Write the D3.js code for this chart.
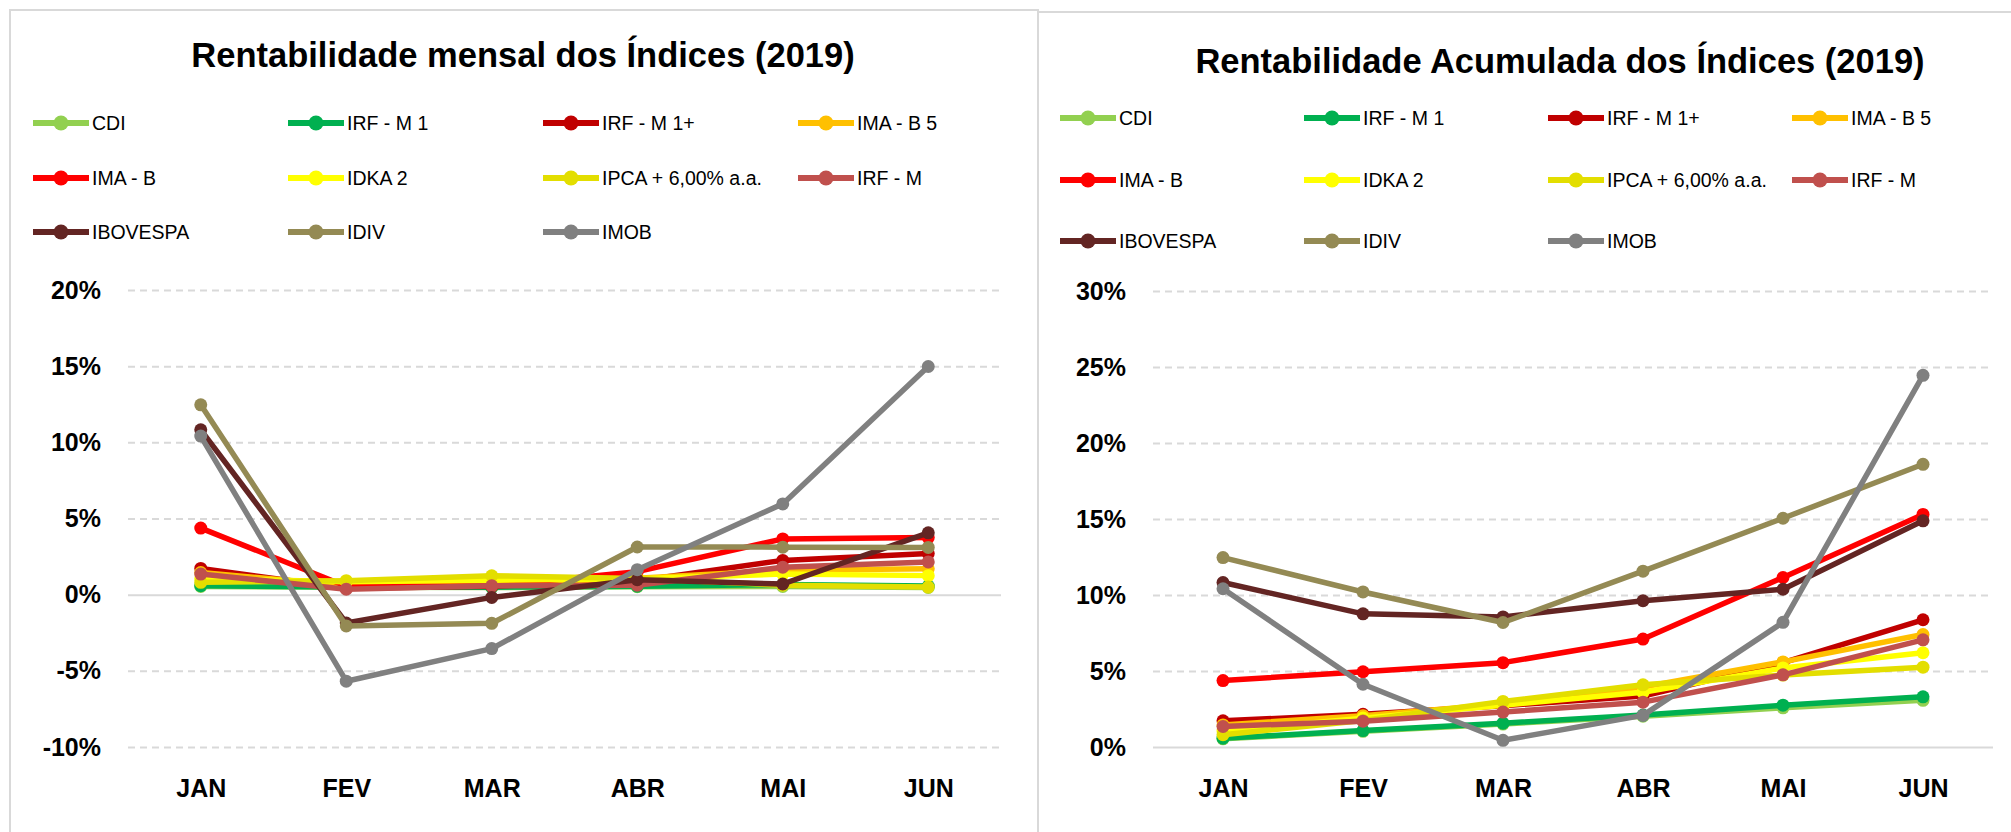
<!DOCTYPE html>
<html>
<head>
<meta charset="utf-8">
<script src="https://cdn.jsdelivr.net/npm/d3@7"></script>
<style>
  body { margin: 0; background: #fff; }
  svg { display: block; font-family: "Liberation Sans", Arial, sans-serif; }
  .grid line { stroke: #d9d9d9; stroke-width: 2; stroke-dasharray: 7,5; }
  .grid .zero line { stroke-dasharray: none; }
  .axis text { font-weight: bold; font-size: 25px; fill: #000; }
</style>
</head>
<body>
<div id="chart"></div>
<script>
// months and series names
const months = ['JAN', 'FEV', 'MAR', 'ABR', 'MAI', 'JUN'];
const seriesNames = ['CDI', 'IRF - M 1', 'IRF - M 1+', 'IMA - B 5', 'IMA - B', 'IDKA 2',
  'IPCA + 6,00% a.a.', 'IRF - M', 'IBOVESPA', 'IDIV', 'IMOB'];
const seriesColors = ['#92D050', '#00B050', '#C00000', '#FFC000', '#FF0000', '#FFFF00',
  '#E3DE00', '#C0504D', '#632523', '#948A54', '#808080'];

// monthly return (%) per index, same order as seriesNames
const mensal = [
  [0.54, 0.49, 0.47, 0.52, 0.54, 0.47],
  [0.59, 0.50, 0.49, 0.56, 0.66, 0.57],
  [1.72, 0.42, 0.56, 0.90, 2.25, 2.70],
  [1.45, 0.60, 0.75, 1.08, 1.60, 1.70],
  [4.37, 0.55, 0.58, 1.51, 3.66, 3.75],
  [1.05, 0.85, 0.95, 1.05, 1.35, 1.25],
  [0.81, 0.92, 1.24, 1.06, 0.62, 0.50],
  [1.35, 0.36, 0.58, 0.62, 1.80, 2.15],
  [10.82, -1.86, -0.18, 0.98, 0.70, 4.06],
  [12.46, -2.05, -1.88, 3.13, 3.12, 3.10],
  [10.41, -5.68, -3.54, 1.64, 5.96, 14.98]
];

// accumulated return (%) per index
const acumulada = [
  [0.54, 1.03, 1.51, 2.03, 2.58, 3.07],
  [0.58, 1.08, 1.57, 2.10, 2.75, 3.30],
  [1.72, 2.15, 2.72, 3.35, 5.55, 8.37],
  [1.45, 2.06, 2.83, 3.95, 5.60, 7.40],
  [4.37, 4.95, 5.55, 7.10, 11.15, 15.30],
  [1.05, 1.90, 2.75, 3.60, 5.20, 6.20],
  [0.81, 1.74, 3.00, 4.09, 4.73, 5.25],
  [1.35, 1.70, 2.30, 2.95, 4.75, 7.05],
  [10.82, 8.76, 8.56, 9.62, 10.38, 14.88],
  [12.46, 10.20, 8.19, 11.57, 15.05, 18.60],
  [10.41, 4.13, 0.44, 2.08, 8.20, 24.45]
];

const ticksMensal = [-10, -5, 0, 5, 10, 15, 20];
const ticksAcum = [0, 5, 10, 15, 20, 25, 30];

const svg = d3.select('#chart').append('svg')
  .attr('width', 2011)
  .attr('height', 832);

function drawChart(cfg) {
  let g = svg.append('g');

  // panel border
  g.append('rect')
    .attr('x', cfg.panel[0]).attr('y', cfg.panel[1])
    .attr('width', cfg.panel[2]).attr('height', cfg.panel[3])
    .attr('fill', '#fff')
    .attr('stroke', '#d9d9d9')
    .attr('stroke-width', 2);

  g.append('text')
    .attr('x', cfg.titleX).attr('y', cfg.titleY)
    .attr('text-anchor', 'middle')
    .style('font-weight', 'bold')
    .style('font-size', '34.5px')
    .text(cfg.title);

  // legend, 4 columns
  let legend = g.append('g');
  seriesNames.forEach((name, i) => {
    let col = i % 4, row = Math.floor(i / 4);
    let lx = cfg.legendX + col * cfg.legendStep;
    let ly = cfg.legendRows[row];
    let item = legend.append('g').attr('transform', `translate(${lx},${ly})`);
    item.append('line')
      .attr('x1', 0).attr('x2', 56).attr('y1', 0).attr('y2', 0)
      .attr('stroke', seriesColors[i])
      .attr('stroke-width', 6);
    item.append('circle')
      .attr('cx', 28).attr('cy', 0).attr('r', 7.5)
      .attr('fill', seriesColors[i]);
    item.append('text')
      .attr('x', 59).attr('y', 0).attr('dy', '0.35em')
      .style('font-size', '19.5px')
      .text(name);
  });

  const x = d3.scalePoint().domain(months)
    .range([cfg.plot[0], cfg.plot[1]]).padding(0.5);
  const y = d3.scaleLinear().domain(d3.extent(cfg.ticks))
    .range([cfg.plot[3], cfg.plot[2]]);

  let yAxis = g.append('g')
    .attr('class', 'grid axis')
    .attr('transform', `translate(${cfg.plot[0]},0)`)
    .call(d3.axisLeft(y).tickValues(cfg.ticks)
      .tickSize(-(cfg.plot[1] - cfg.plot[0]))
      .tickPadding(27)
      .tickFormat(d => d + '%'));
  yAxis.select('.domain').remove();
  yAxis.selectAll('.tick').classed('zero', d => d === 0);

  let xAxis = g.append('g')
    .attr('class', 'axis')
    .attr('transform', `translate(0,${cfg.plot[3]})`)
    .call(d3.axisBottom(x).tickSize(0).tickPadding(32));
  xAxis.select('.domain').remove();

  const line = d3.line()
    .x((d, i) => x(months[i]))
    .y(d => y(d));

  cfg.data.forEach((vals, s) => {
    let sg = g.append('g');
    sg.append('path')
      .datum(vals)
      .attr('d', line)
      .attr('fill', 'none')
      .attr('stroke', seriesColors[s])
      .attr('stroke-width', 5.5)
      .attr('stroke-linejoin', 'round');
    sg.selectAll('circle')
      .data(vals).enter().append('circle')
        .attr('cx', (d, i) => x(months[i]))
        .attr('cy', d => y(d))
        .attr('r', 6.5)
        .attr('fill', seriesColors[s]);
  });
}

drawChart({
  title: 'Rentabilidade mensal dos Índices (2019)',
  titleX: 523, titleY: 67,
  panel: [10, 10, 1028, 840],
  legendX: 33, legendStep: 255, legendRows: [123, 178, 232],
  plot: [128, 1001, 290, 747],
  ticks: ticksMensal,
  data: mensal
});

drawChart({
  title: 'Rentabilidade Acumulada dos Índices (2019)',
  titleX: 1560, titleY: 73,
  panel: [1038, 12, 990, 840],
  legendX: 1060, legendStep: 244, legendRows: [118, 180, 241],
  plot: [1153, 1993, 291, 747],
  ticks: ticksAcum,
  data: acumulada
});
</script>
</body>
</html>
